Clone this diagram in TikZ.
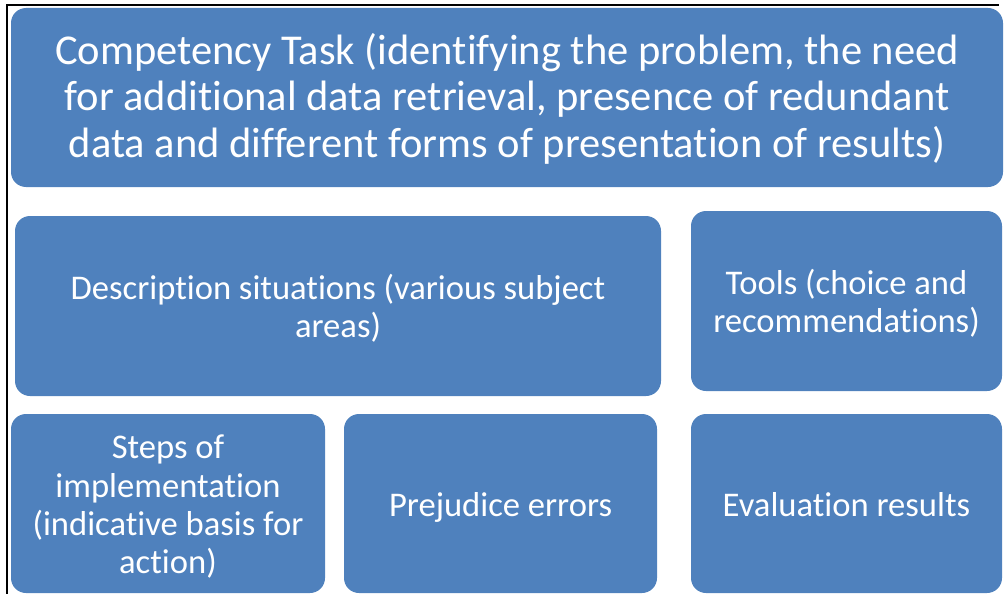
\documentclass[tikz,border=0pt]{standalone}
\usepackage{fontspec}
\setmainfont{Carlito}[Ligatures={NoCommon}]
\definecolor{boxblue}{HTML}{4F81BD}
\newcommand\mytopstrut[1]{\rule{0pt}{#1}}
\begin{document}
\begin{tikzpicture}[x=1pt,y=-1pt,
  blk/.style={fill=boxblue, draw=none, rounded corners=15pt, text=white, align=center, inner sep=0pt},
  bigtxt/.style={font=\fontsize{42.5}{46.5}\selectfont},
  midtxt/.style={font=\fontsize{34.6}{38.3}\selectfont},
]
\useasboundingbox (0,0) rectangle (1004,594);
\draw[line width=1.2pt, black] (7,594) -- (7,5) -- (999,5);
\node[blk, bigtxt, minimum width=992pt, minimum height=179pt] (task) at (507,97.5)
  {\mytopstrut{40.6pt}Competency Task (identifying the problem, the need\\for additional data retrieval, presence of redundant\\data and different forms of presentation of results)\strut};
\node[blk, midtxt, minimum width=646pt, minimum height=180pt] (desc) at (338,306)
  {\mytopstrut{36.8pt}Description situations (various subject\\areas)\strut};
\node[blk, midtxt, minimum width=311pt, minimum height=180pt] (tools) at (846.5,301)
  {\mytopstrut{36.8pt}Tools (choice and\\recommendations)\strut};
\node[blk, midtxt, minimum width=314pt, minimum height=179pt] (steps) at (168,503.5)
  {\mytopstrut{36.8pt}Steps of\\implementation\\(indicative basis for\\action)\strut};
\node[blk, midtxt, minimum width=313pt, minimum height=179pt] (prej) at (500.5,503.5)
  {\mytopstrut{36.8pt}Prejudice errors\strut};
\node[blk, midtxt, minimum width=311pt, minimum height=179pt] (eval) at (846.5,503.5)
  {\mytopstrut{36.8pt}Evaluation results\strut};
\end{tikzpicture}
\end{document}
